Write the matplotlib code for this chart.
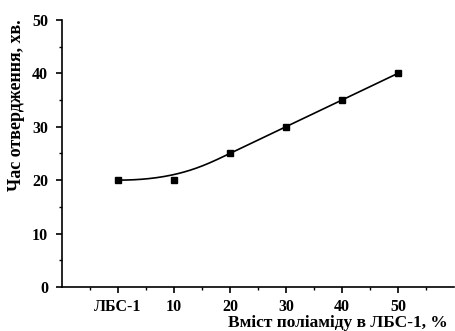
import numpy as np
import matplotlib
matplotlib.use("Agg")
import matplotlib.pyplot as plt

categories = ["ЛБС-1", "10", "20", "30", "40", "50"]
values = [20, 20, 25, 30, 35, 40]
yticks = [0, 10, 20, 30, 40, 50]

plt.rcParams['font.family'] = ['Liberation Serif', 'DejaVu Serif']
plt.rcParams['font.weight'] = 'bold'

fig = plt.figure(figsize=(4.55, 3.31), dpi=100)
ax = fig.add_axes([0.136, 0.133, 0.862, 0.807])

x = np.arange(1, len(categories) + 1, dtype=float)
y = np.array(values, dtype=float)

# clamped cubic B-spline using data points as control points (Origin-style B-spline)
def bspline(cx, cy, k=3, n=300):
    m = len(cx)
    inner = np.arange(1, m - k)
    knots = np.concatenate([np.zeros(k + 1), inner, np.full(k + 1, m - k)]).astype(float)
    t = np.linspace(0, m - k, n)
    t[-1] -= 1e-9
    def basis(i, p, tt):
        if p == 0:
            return ((knots[i] <= tt) & (tt < knots[i + 1])).astype(float)
        a = np.zeros_like(tt)
        d1 = knots[i + p] - knots[i]
        d2 = knots[i + p + 1] - knots[i + 1]
        if d1 > 0:
            a += (tt - knots[i]) / d1 * basis(i, p - 1, tt)
        if d2 > 0:
            a += (knots[i + p + 1] - tt) / d2 * basis(i + 1, p - 1, tt)
        return a
    B = np.array([basis(i, k, t) for i in range(m)])
    return B.T @ cx, B.T @ cy

sx, sy = bspline(x, y)
ax.plot(sx, sy, color='black', lw=1.2)
ax.plot(x, y, linestyle='none', marker='s', color='black', markersize=5)

ax.set_xlim(0, 7)
ax.set_ylim(0, 50)
ax.set_xticks(x)
ax.set_xticklabels(categories)
ax.set_xticks(np.arange(0.5, 7, 1.0), minor=True)
ax.set_yticks(yticks)
ax.set_yticks(np.arange(5, 50, 10), minor=True)

for s in ['top', 'right']:
    ax.spines[s].set_visible(False)
for s in ['left', 'bottom']:
    ax.spines[s].set_linewidth(1.2)

ax.tick_params(which='major', direction='out', length=4, width=1.2, labelsize=11.5)
ax.tick_params(axis='x', which='major', pad=5)
ax.tick_params(axis='y', which='major', pad=6)
ax.tick_params(which='minor', direction='out', length=2.5, width=1.0)
for lab in ax.get_xticklabels() + ax.get_yticklabels():
    lab.set_fontweight('bold')

fig.text(0.985, 0.011, "Вміст поліаміду в ЛБС-1, %", ha='right', va='baseline',
         fontsize=12.5, fontweight='bold')
fig.text(0.037, 0.683, "Час отвердження, хв.", rotation=90, ha='center', va='center',
         fontsize=13, fontweight='bold')

fig.savefig("out.png", dpi=100)
